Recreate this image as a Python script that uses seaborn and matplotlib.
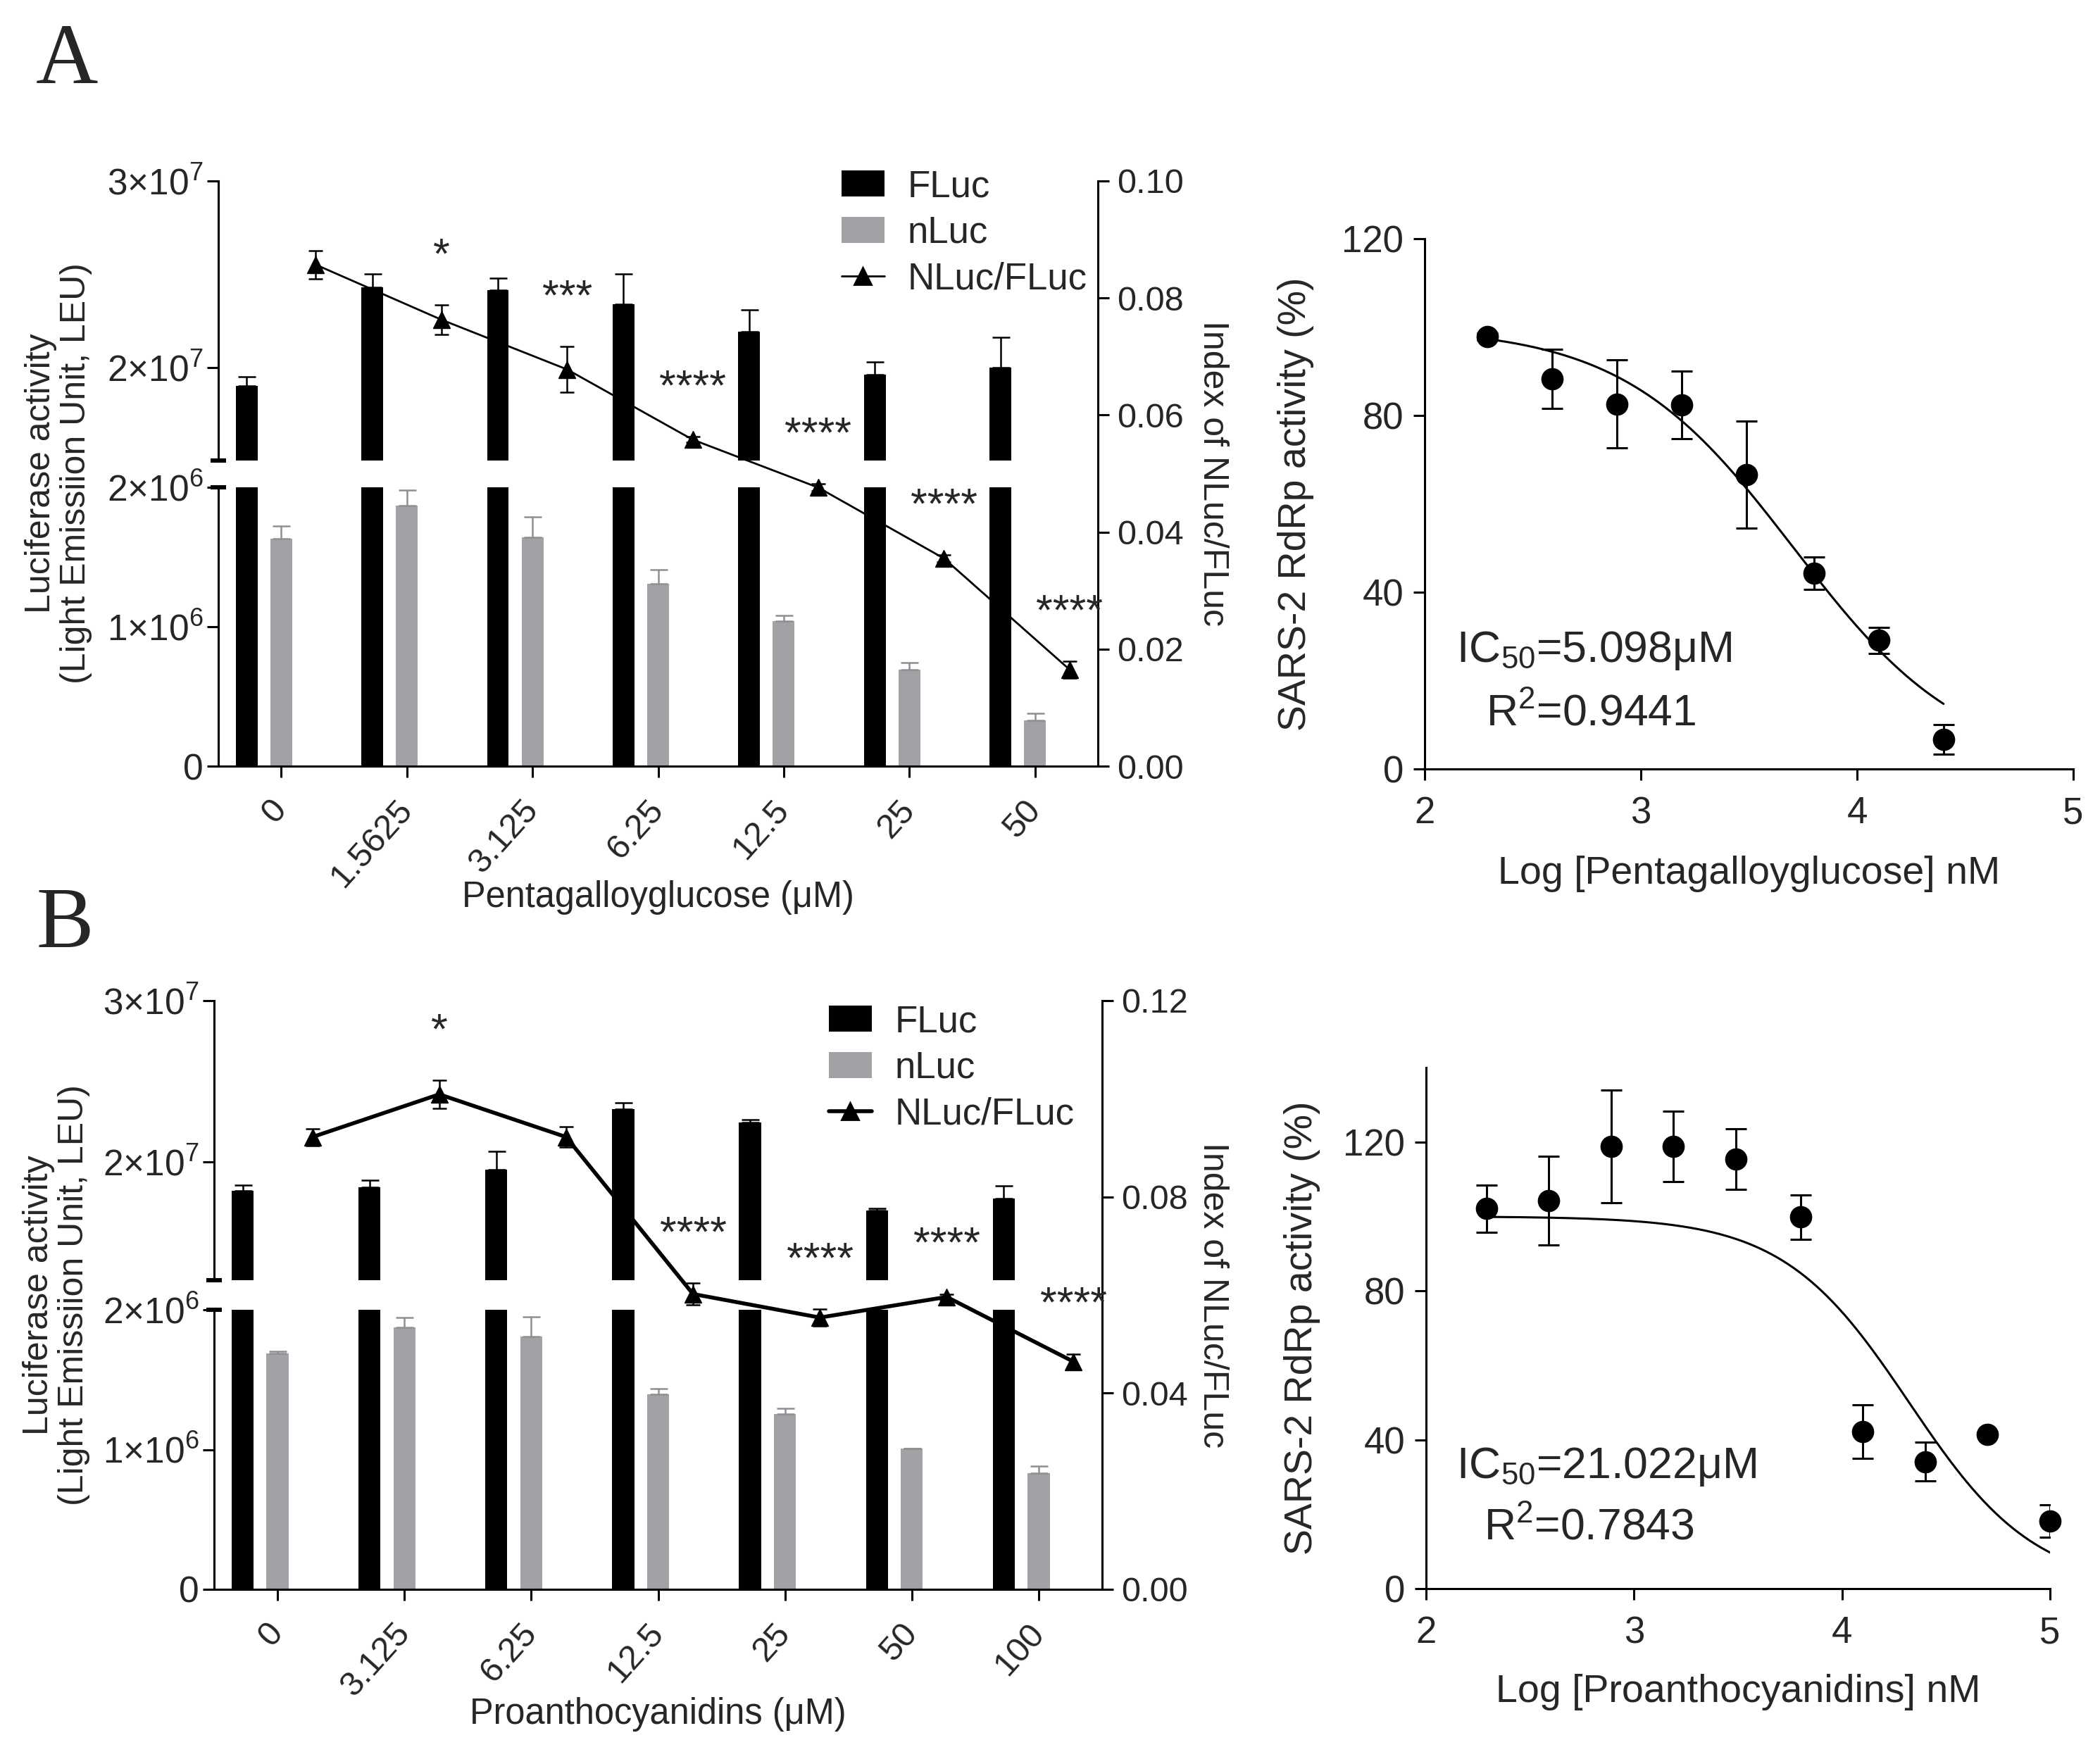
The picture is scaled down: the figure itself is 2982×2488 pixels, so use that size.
import numpy as np
import pandas as pd
import matplotlib
matplotlib.use("Agg")
import matplotlib.pyplot as plt
import seaborn as sns
from matplotlib.patches import Patch
from matplotlib.lines import Line2D

# ---------------- data ----------------
pgg_conc = ['0', '1.5625', '3.125', '6.25', '12.5', '25', '50']
pgg_fluc = [1.90e7, 2.43e7, 2.415e7, 2.34e7, 2.19e7, 1.96e7, 2.00e7]
pgg_fluc_sd = [0.05e7, 0.07e7, 0.065e7, 0.16e7, 0.12e7, 0.07e7, 0.16e7]
pgg_nluc = [1.63e6, 1.87e6, 1.64e6, 1.31e6, 1.04e6, 0.69e6, 0.33e6]
pgg_nluc_sd = [0.09e6, 0.11e6, 0.15e6, 0.10e6, 0.04e6, 0.05e6, 0.05e6]
pgg_ratio = [0.0857, 0.0763, 0.0678, 0.0558, 0.0476, 0.0355, 0.0165]
pgg_ratio_sd = [0.0024, 0.0025, 0.0039, 0.0005, 0.0006, 0.0006, 0.0014]
pgg_stars = ['', '*', '***', '****', '****', '****', '****']

pac_conc = ['0', '3.125', '6.25', '12.5', '25', '50', '100']
pac_fluc = [1.823e7, 1.847e7, 1.954e7, 2.33e7, 2.247e7, 1.703e7, 1.775e7]
pac_fluc_sd = [0.034e7, 0.042e7, 0.114e7, 0.04e7, 0.017e7, 0.01e7, 0.08e7]
pac_nluc = [1.688e6, 1.875e6, 1.808e6, 1.394e6, 1.255e6, 1.008e6, 0.833e6]
pac_nluc_sd = [0.015e6, 0.07e6, 0.14e6, 0.04e6, 0.04e6, 0.0, 0.05e6]
pac_ratio = [0.0922, 0.1009, 0.0922, 0.0602, 0.0554, 0.0596, 0.0464]
pac_ratio_sd = [0.0017, 0.0029, 0.0021, 0.0022, 0.0017, 0.0006, 0.0016]
pac_stars = ['', '*', '', '****', '****', '****', '****']

pgg_logc = [2.29, 2.59, 2.89, 3.19, 3.49, 3.80, 4.10, 4.40]
pgg_act = [97.9, 88.3, 82.6, 82.4, 66.6, 44.3, 29.1, 6.7]
pgg_act_sd = [0.8, 6.7, 10.0, 7.7, 12.1, 3.7, 2.9, 3.4]
pgg_fit = [100.0, 0.0, 3.707, 1.1]   # top, bottom, logIC50, hill

pac_logc = [2.29, 2.59, 2.89, 3.19, 3.49, 3.80, 4.10, 4.40, 4.70, 5.00]
pac_act = [102.1, 104.3, 118.8, 118.8, 115.4, 99.8, 42.2, 34.1, 41.5, 18.2]
pac_act_sd = [6.4, 11.9, 15.2, 9.4, 8.1, 6.0, 7.2, 5.2, 0.5, 4.4]
pac_fit = [100.0, 0.0, 4.3227, 1.43]

# ---------------- style ----------------
W, H, DPI = 2982, 2488, 200
GRAY = '#a1a2a6'
LW = 1.1

sns.set_theme(style='ticks')
plt.rcParams['font.family'] = ['Liberation Sans', 'DejaVu Sans']
plt.rcParams['mathtext.fontset'] = 'custom'
plt.rcParams['mathtext.rm'] = 'Liberation Sans'
plt.rcParams['mathtext.it'] = 'Liberation Sans:italic'
plt.rcParams['mathtext.bf'] = 'Liberation Sans:bold'

fig = plt.figure(figsize=(W / DPI, H / DPI), dpi=DPI)
fig.patch.set_facecolor('white')


def px_rect(x0, y0, x1, y1):
    return [x0 / W, 1 - y1 / H, (x1 - x0) / W, (y1 - y0) / H]


def tick_style(ax, size, pad):
    ax.tick_params(direction='out', length=5.8, width=LW, labelsize=size, pad=pad, color='black')
    for s in ax.spines.values():
        s.set_linewidth(LW)
        s.set_color('black')


def bar_panel(conc, fluc, fluc_sd, nluc, nluc_sd, ratio, ratio_sd, stars,
              box, break_lo, ratio_ticks, xlabel, xlabel_y, ylab_x, rlab_x,
              legend_xy, line_w):
    x0, x1, y_top, y_brk1, y_brk2, y_bot = box
    n = len(conc)
    ax_top = fig.add_axes(px_rect(x0, y_top, x1, y_brk1))
    ax_bot = fig.add_axes(px_rect(x0, y_brk2, x1, y_bot))
    ax_r = fig.add_axes(px_rect(x0, y_top, x1, y_bot))

    df = pd.DataFrame({'conc': conc * 2,
                       'series': ['FLuc'] * n + ['nLuc'] * n,
                       'value': fluc + nluc})
    pal = {'FLuc': 'black', 'nLuc': GRAY, 'NLuc/FLuc': 'white'}
    for ax in (ax_top, ax_bot):
        sns.barplot(data=df, x='conc', y='value', hue='series',
                    hue_order=['FLuc', 'nLuc', 'NLuc/FLuc'], palette=pal,
                    width=0.825, gap=0.37, errorbar=None, legend=False,
                    saturation=1, linewidth=0, ax=ax)
        conts = list(ax.containers[:2])
        for cont, sd, col in zip(conts, (fluc_sd, nluc_sd), ('black', '#8e8f93')):
            xs = [p.get_x() + p.get_width() / 2 for p in cont]
            hs = [p.get_height() for p in cont]
            ax.errorbar(xs, hs, yerr=[np.zeros(n), sd], fmt='none', ecolor=col,
                        elinewidth=0.9, capsize=4.5, capthick=0.9)
        ax.set_xlabel('')
        ax.set_ylabel('')
        ax.set_xlim(-0.5, n - 0.5)
        ax.spines['top'].set_visible(False)
        ax.spines['right'].set_visible(False)
        ax.set_facecolor('none')

    black_x = np.array([p.get_x() + p.get_width() / 2 for p in ax_bot.containers[0]])
    gray_x = np.array([p.get_x() + p.get_width() / 2 for p in ax_bot.containers[1]])
    tri_x = 2 * gray_x - black_x

    # upper (broken) segment
    tick_style(ax_top, 18.5, 2)
    ax_top.set_ylim(break_lo, 3e7)
    ax_top.set_yticks([2e7, 3e7], ['2×10$^{7}$', '3×10$^{7}$'])
    ax_top.spines['bottom'].set_visible(False)
    ax_top.tick_params(axis='x', bottom=False, labelbottom=False)
    ax_top.plot([-0.009, 0.009], [0, 0], transform=ax_top.transAxes, color='black',
                lw=2.2, clip_on=False, solid_capstyle='butt')

    # lower segment
    tick_style(ax_bot, 18.5, 2)
    ax_bot.set_ylim(0, 2e6)
    ax_bot.set_yticks([0, 1e6, 2e6], ['0', '1×10$^{6}$', '2×10$^{6}$'])
    ax_bot.plot([-0.009, 0.009], [1, 1], transform=ax_bot.transAxes, color='black',
                lw=2.2, clip_on=False, solid_capstyle='butt')
    ax_bot.tick_params(axis='x', labelsize=17.5, pad=14)
    for lab in ax_bot.get_xticklabels():
        lab.set_rotation(48)
        lab.set_ha('right')
        lab.set_va('center')
        lab.set_rotation_mode('anchor')
    ax_bot.set_xlabel(xlabel, fontsize=18.2)
    ax_bot.xaxis.label.set_va('center')
    ax_bot.xaxis.set_label_coords(0.5, xlabel_y)

    # ratio on right axis
    ax_r.set_facecolor('none')
    sns.lineplot(x=tri_x, y=ratio, ax=ax_r, color='black', linewidth=line_w,
                 marker='^', markersize=8.5, markeredgecolor='black',
                 markeredgewidth=0.5, errorbar=None)
    ax_r.errorbar(tri_x, ratio, yerr=ratio_sd, fmt='none', ecolor='black',
                  elinewidth=0.9, capsize=3.5, capthick=0.9)
    for x, r, e, s in zip(tri_x, ratio, ratio_sd, stars):
        if s:
            ax_r.annotate(s, (x, r + e), xytext=(0, 19), textcoords='offset points',
                          ha='center', va='baseline', fontsize=22)
    ax_r.set_xlim(ax_bot.get_xlim())
    ax_r.set_ylim(0, ratio_ticks[-1])
    ax_r.set_yticks(ratio_ticks, [f'{t:.2f}' for t in ratio_ticks])
    for side in ('left', 'top', 'bottom'):
        ax_r.spines[side].set_visible(False)
    ax_r.yaxis.tick_right()
    ax_r.tick_params(axis='x', bottom=False, labelbottom=False)
    tick_style(ax_r, 17.5, 4)
    ax_r.set_ylabel('Index of NLuc/FLuc', fontsize=18, rotation=270, va='center')
    ax_r.yaxis.set_label_position('right')
    ax_r.yaxis.set_label_coords(rlab_x, 0.5)

    fig.text(ylab_x / W, 1 - (y_top + y_bot) / 2 / H,
             'Luciferase activity\n(Light Emissiion Unit, LEU)',
             rotation=90, ha='center', va='center', fontsize=18,
             multialignment='center', linespacing=1.1)

    handles = [Patch(facecolor='black', edgecolor='none'),
               Patch(facecolor=GRAY, edgecolor='none'),
               Line2D([], [], color='black', lw=line_w, marker='^', markersize=8.5)]
    fig.legend(handles, ['FLuc', 'nLuc', 'NLuc/FLuc'], loc='upper left',
               bbox_to_anchor=(legend_xy[0] / W, 1 - legend_xy[1] / H),
               bbox_transform=fig.transFigure, frameon=False, fontsize=19,
               handlelength=1.15, handleheight=0.7, handletextpad=0.62,
               labelspacing=0.3, borderpad=0, borderaxespad=0)


def dose_panel(logc, act, act_sd, fit, box, ylim_top, xlabel, ic50_txt, r2_txt, ann):
    x0, y0, x1, y1 = box
    ax = fig.add_axes(px_rect(x0, y0, x1, y1))
    top, bottom, log_ic50, hill = fit
    xc = np.linspace(logc[0], logc[-1], 300)
    yc = bottom + (top - bottom) / (1 + 10 ** (hill * (xc - log_ic50)))
    sns.lineplot(x=xc, y=yc, ax=ax, color='black', linewidth=1.1, errorbar=None)
    ax.errorbar(logc, act, yerr=act_sd, fmt='none', ecolor='black',
                elinewidth=1.1, capsize=5.5, capthick=1.1, zorder=3)
    sns.scatterplot(x=logc, y=act, ax=ax, color='black', s=130, edgecolor='black',
                    linewidth=0, zorder=4, clip_on=False)
    ax.set_xlim(2, 5)
    ax.set_ylim(0, ylim_top)
    ax.set_xticks([2, 3, 4, 5])
    ax.set_yticks([0, 40, 80, 120])
    tick_style(ax, 19, 5)
    ax.tick_params(axis='x', pad=8)
    ax.spines['top'].set_visible(False)
    ax.spines['right'].set_visible(False)
    ax.set_facecolor('none')
    ax.set_xlabel(xlabel, fontsize=20)
    ax.xaxis.label.set_va('center')
    ax.xaxis.set_label_coords(0.5, -0.198)
    ax.set_ylabel('SARS-2 RdRp activity (%)', fontsize=20)
    ax.yaxis.label.set_va('center')
    ax.yaxis.set_label_coords(-0.199, 0.5)
    ax.text(ann[0], ann[1], ic50_txt, transform=ax.transAxes, fontsize=22.5, va='baseline')
    ax.text(ann[2], ann[3], r2_txt, transform=ax.transAxes, fontsize=22.5, va='baseline')
    return ax


# ---------------- panel A ----------------
bar_panel(pgg_conc, pgg_fluc, pgg_fluc_sd, pgg_nluc, pgg_nluc_sd, pgg_ratio,
          pgg_ratio_sd, pgg_stars,
          box=(310, 1559, 257, 654, 692, 1088), break_lo=1.5e7,
          ratio_ticks=[0.0, 0.02, 0.04, 0.06, 0.08, 0.10],
          xlabel='Pentagalloyglucose (μM)', xlabel_y=-0.47, ylab_x=83, rlab_x=1.149,
          legend_xy=(1195, 240), line_w=1.0)
dose_panel(pgg_logc, pgg_act, pgg_act_sd, pgg_fit, (2023, 339, 2944, 1092), 120,
           'Log [Pentagalloyglucose] nM', 'IC$_{50}$=5.098μM', 'R$^{2}$=0.9441',
           (0.049, 0.202, 0.095, 0.082))

# ---------------- panel B ----------------
bar_panel(pac_conc, pac_fluc, pac_fluc_sd, pac_nluc, pac_nluc_sd, pac_ratio,
          pac_ratio_sd, pac_stars,
          box=(304, 1565, 1421, 1818, 1860, 2257), break_lo=1.27e7,
          ratio_ticks=[0.0, 0.04, 0.08, 0.12],
          xlabel='Proanthocyanidins (μM)', xlabel_y=-0.446, ylab_x=80, rlab_x=1.143,
          legend_xy=(1177, 1426), line_w=2.0)
dose_panel(pac_logc, pac_act, pac_act_sd, pac_fit, (2025, 1516, 2911, 2256), 140,
           'Log [Proanthocyanidins] nM', 'IC$_{50}$=21.022μM', 'R$^{2}$=0.7843',
           (0.0485, 0.2126, 0.0925, 0.0946))

fig.text(95 / W, 1 - 88 / H, 'A', family='Liberation Serif', fontsize=44,
         ha='center', va='center')
fig.text(92 / W, 1 - 1315 / H, 'B', family='Liberation Serif', fontsize=44,
         ha='center', va='center')

fig.savefig('out.png', dpi=DPI, facecolor='white')
